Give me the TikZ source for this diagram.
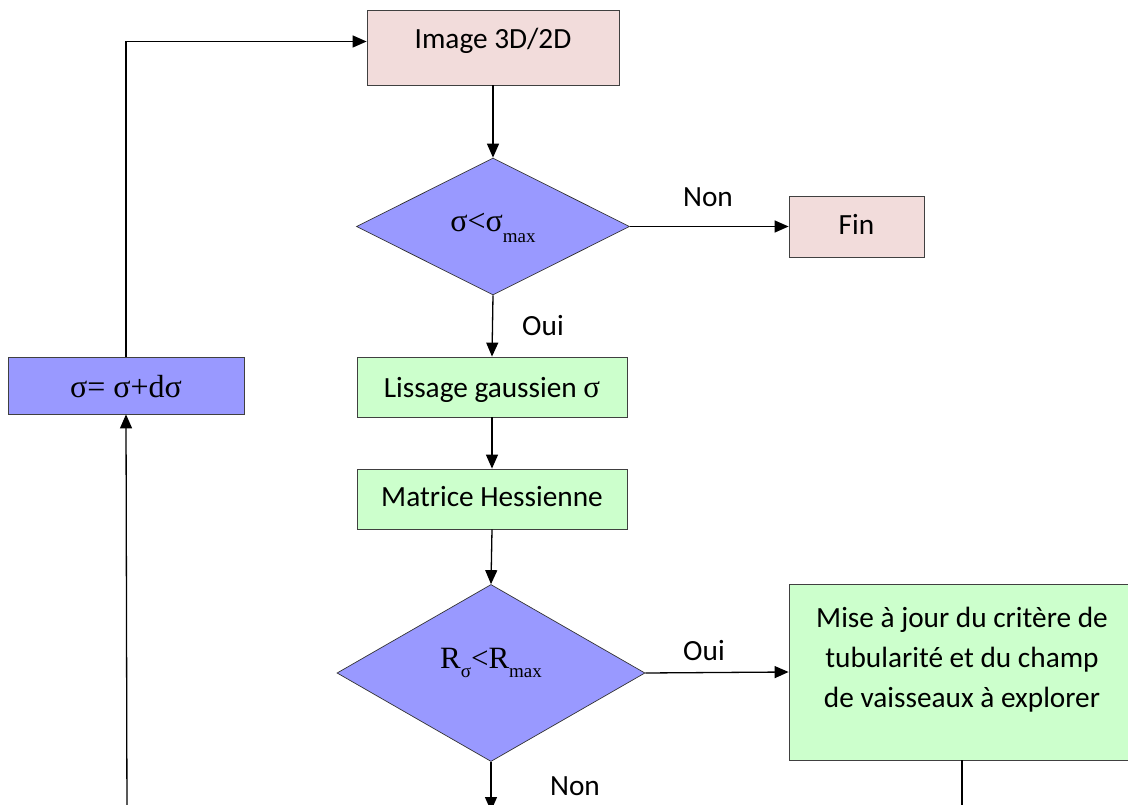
\documentclass[tikz,border=0pt]{standalone}
\usepackage{fontspec}
\setmainfont{Carlito}
\newfontfamily\serif{Liberation Serif}
\usetikzlibrary{shapes.geometric,arrows.meta}
\definecolor{pinkfill}{HTML}{F2DCDB}
\definecolor{bluefill}{HTML}{9999FF}
\definecolor{greenfill}{HTML}{CCFFCC}
\begin{document}
\begin{tikzpicture}[x=1pt,y=-1pt,
  box/.style={rectangle, draw=black!75, line width=0.8pt, inner sep=0pt},
  dia/.style={diamond, draw=black!80, line width=0.7pt, inner sep=0pt, fill=bluefill},
  conn/.style={line width=1.3pt, draw=black},
  arr/.style={conn, -{Triangle[length=14pt,width=12pt]}},
  txt/.style={font=\fontsize{29.3}{35}\selectfont, inner sep=0pt, anchor=base},
  stxt/.style={font=\serif\fontsize{32}{35}\selectfont, inner sep=0pt, anchor=base},
]
\useasboundingbox (0,0) rectangle (1128,805);
\clip (0,0) rectangle (1128,805);

% boxes
\node[box, fill=pinkfill, minimum width=252pt, minimum height=75pt] (img) at (493,47.5) {};
\node[txt] (imgt) at (493,49) {Image 3D/2D};

\node[dia, minimum width=273pt, minimum height=137pt] (d1) at (493,226.5) {};
\node[stxt] (d1t) at (493,232) {σ<σ\raisebox{-11pt}{\fontsize{19}{20}\selectfont max}};

\node[box, fill=pinkfill, minimum width=135pt, minimum height=61pt] (fin) at (856.5,226.5) {};
\node[txt] (fint) at (856.5,235) {Fin};

\node[box, fill=greenfill, minimum width=270pt, minimum height=60pt] (liss) at (492,387) {};
\node[txt] (lisst) at (492,397) {Lissage gaussien {\serif\fontsize{31}{35}\selectfont σ}};

\node[box, fill=greenfill, minimum width=270pt, minimum height=60pt] (mat) at (492,499) {};
\node[txt] (matt) at (492,506) {Matrice Hessienne};

\node[dia, minimum width=308pt, minimum height=177pt] (d2) at (491,673) {};
\node[stxt, font=\serif\fontsize{31}{35}\selectfont] (d2t) at (491,668) {R\raisebox{-9pt}{\fontsize{19}{20}\selectfont σ}<R\raisebox{-9pt}{\fontsize{19}{20}\selectfont max}};

\node[box, fill=greenfill, minimum width=346pt, minimum height=176pt] (mise) at (962,672) {};
\node[txt] (mise1) at (962,627) {Mise à jour du critère de};
\node[txt] (mise2) at (962,667) {tubularité et du champ};
\node[txt] (mise3) at (962,707) {de vaisseaux à explorer};

\node[box, fill=bluefill, minimum width=236pt, minimum height=57pt] (sig) at (126,385.5) {};
\node[stxt] (sigt) at (126,397) {σ= σ+dσ};

% labels
\node[txt] (lnon1) at (708,207) {Non};
\node[txt] (loui1) at (543,335) {Oui};
\node[txt] (loui2) at (704,660) {Oui};
\node[txt] (lnon2) at (575,795) {Non};

% connectors
\draw[arr] (img.south) -- (d1.north);
\draw[arr] (d1.east) -- (fin.west);
\draw[arr] (d1.south) -- (liss.north);
\draw[arr] (liss.south) -- (mat.north);
\draw[arr] (mat.south) -- (d2.north);
\draw[arr] (d2.east) -- (mise.west);
\coordinate (bd) at (491,811);
\draw[arr] (d2.south) -- (bd);
\coordinate (bm) at (962,820);
\draw[conn] (mise.south) -- (bm);
\coordinate (bl) at (127,820);
\draw[arr] (bl) -- (sig.south);
\draw[arr] (sig.north) |- ([yshift=6pt]img.west);
\end{tikzpicture}
\end{document}
